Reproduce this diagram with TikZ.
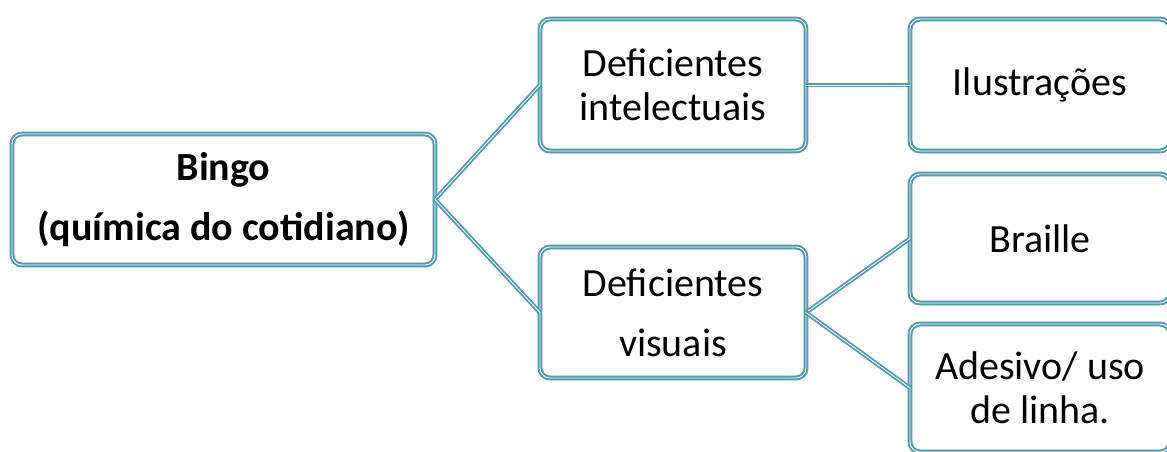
\documentclass[tikz,border=0pt]{standalone}
\usepackage{fontspec}
\setmainfont{Carlito}
\definecolor{lineteal}{RGB}{80,154,175}
\begin{document}
\begin{tikzpicture}[x=1pt,y=-1pt,
  box/.style={draw=lineteal, line width=2pt, double=white, double distance=0.9pt,
    fill=white, rounded corners=10pt, inner sep=0pt, outer sep=0pt, align=center,
    font=\fontsize{40}{44}\selectfont},
  link/.style={draw=lineteal, line width=1.8pt, double=white, double distance=0.8pt}]
\useasboundingbox (0,0) rectangle (1167,451);
\clip (0,0) rectangle (1167,451);
\node[box, minimum width=423pt, minimum height=131pt] (bingo) at (223.5,199.5)
  {\bfseries Bingo\\[16pt]\bfseries(química do cotidiano)};
\node[box, minimum width=266pt, minimum height=132pt] (di) at (673,85)
  {Deficientes\\intelectuais};
\node[box, minimum width=266pt, minimum height=131pt] (dv) at (673,312.5)
  {Deficientes\\[16pt]visuais};
\node[box, minimum width=260pt, minimum height=132pt] (il) at (1040,85)
  {Ilustrações};
\node[box, minimum width=260pt, minimum height=129pt] (br) at (1040,238.5)
  {Braille};
\node[box, minimum width=260pt, minimum height=128pt] (ad) at (1040,388)
  {Adesivo/ uso\\de linha.};
\path[link] (bingo.east) -- (di.west);
\path[link] (bingo.east) -- (dv.west);
\path[link] (di.east) -- (il.west);
\path[link] (dv.east) -- (br.west);
\path[link] (dv.east) -- (ad.west);
\end{tikzpicture}
\end{document}
